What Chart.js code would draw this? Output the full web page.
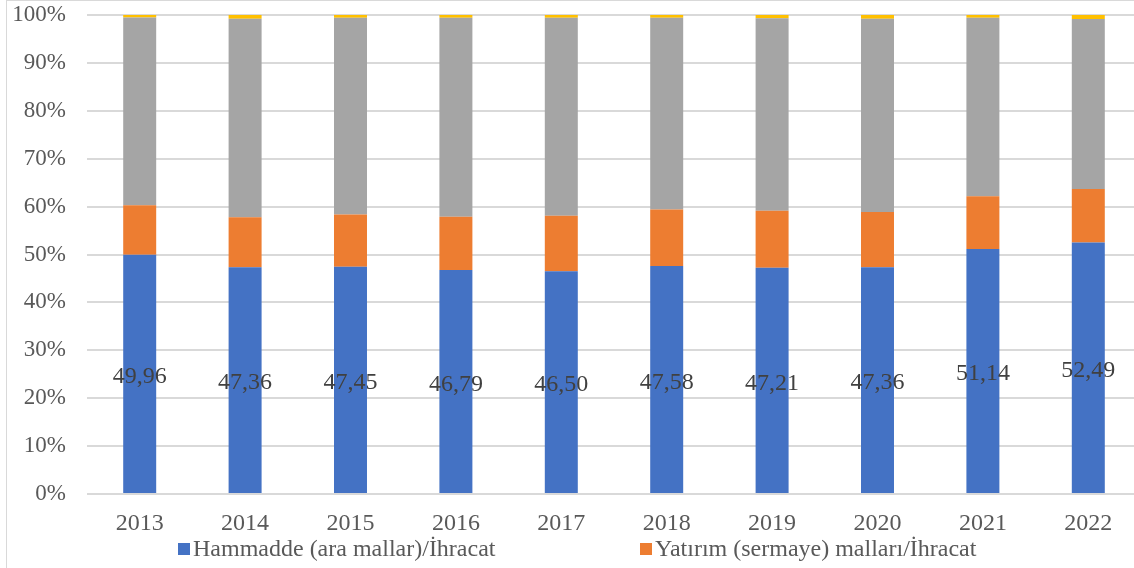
<!DOCTYPE html>
<html>
<head>
<meta charset="utf-8">
<script src="https://cdn.jsdelivr.net/npm/chart.js@4.4.1/dist/chart.umd.min.js"></script>
<style>
html,body{margin:0;padding:0;background:#fff;overflow:hidden;width:1134px;height:568px;}
#frame{position:absolute;left:6px;top:0px;width:1200px;height:600px;border:1.5px solid #d9d9d9;box-sizing:border-box;}
#wrap{position:absolute;left:0;top:0;width:1150px;height:568px;}
</style>
</head>
<body>
<div id="frame"></div>
<div id="wrap"><canvas id="c" width="1150" height="568"></canvas></div>
<script>
const years = ['2013','2014','2015','2016','2017','2018','2019','2020','2021','2022'];
const hammadde = [49.96, 47.36, 47.45, 46.79, 46.50, 47.58, 47.21, 47.36, 51.14, 52.49];
const yatirim = [10.3, 10.4, 10.9, 11.1, 11.6, 11.8, 11.9, 11.5, 11.0, 11.2];
const tuketim = [39.24, 41.44, 41.10, 41.56, 41.35, 40.07, 40.19, 40.34, 37.31, 35.46];
const diger = [0.50, 0.80, 0.55, 0.55, 0.55, 0.55, 0.70, 0.80, 0.55, 0.85];
const yTicks = [0,10,20,30,40,50,60,70,80,90,100];
const seriesNames = ['Hammadde (ara mallar)/İhracat','Yatırım (sermaye) malları/İhracat','Tüketim malları/İhracat','Diğerleri/İhracat'];

const FONT = '"Liberation Serif", "Times New Roman", serif';

const labelPlugin = {
  id: 'blueLabels',
  afterDatasetsDraw(chart) {
    const ctx = chart.ctx;
    const meta = chart.getDatasetMeta(0);
    ctx.save();
    ctx.font = '24px ' + FONT;
    ctx.fillStyle = '#404040';
    ctx.textAlign = 'center';
    ctx.textBaseline = 'middle';
    meta.data.forEach((el, i) => {
      const cy = (el.y + el.base) / 2 + 3;
      ctx.fillText(hammadde[i].toFixed(2).replace('.', ','), el.x, cy);
    });
    ctx.restore();
  }
};

const legendPlugin = {
  id: 'customLegend',
  afterDraw(chart) {
    const ctx = chart.ctx;
    const items = [
      {x: 178, ds: 0},
      {x: 640, ds: 1}
    ];
    ctx.save();
    ctx.font = '24px ' + FONT;
    ctx.textBaseline = 'middle';
    ctx.textAlign = 'left';
    items.forEach(it => {
      const ds = chart.data.datasets[it.ds];
      ctx.fillStyle = ds.backgroundColor;
      ctx.fillRect(it.x, 543, 12, 12);
      ctx.fillStyle = '#595959';
      ctx.fillText(ds.label, it.x + 15, 550);
    });
    ctx.restore();
  }
};

const colors = ['#4472c4', '#ed7d31', '#a5a5a5', '#ffc000'];
const values = [hammadde, yatirim, tuketim, diger];

new Chart(document.getElementById('c'), {
  type: 'bar',
  data: {
    labels: years,
    datasets: values.map((v, i) => ({
      label: seriesNames[i],
      data: v,
      backgroundColor: colors[i],
      borderWidth: 0,
      categoryPercentage: 1.0,
      barPercentage: 0.313
    }))
  },
  options: {
    responsive: false,
    animation: false,
    layout: { padding: { left: 0, right: 9, top: 15, bottom: 34 } },
    plugins: { legend: { display: false }, tooltip: { enabled: false } },
    scales: {
      x: {
        stacked: true,
        grid: { display: false, drawTicks: false },
        border: { display: false },
        ticks: { font: { family: FONT, size: 24, lineHeight: 1 }, color: '#595959', padding: 18, maxRotation: 0 },
        afterFit(s) { s.height = 40; s.paddingLeft = 0; s.paddingRight = 0; }
      },
      y: {
        stacked: true,
        min: 0, max: 100,
        afterBuildTicks(s) { s.ticks = yTicks.map(v => ({ value: v })); },
        grid: { color: '#d9d9d9', lineWidth: 2, drawTicks: false },
        border: { display: false },
        ticks: { font: { family: FONT, size: 23, lineHeight: 1 }, color: '#595959', padding: 21, callback: v => v + '%' },
        afterFit(s) { s.width = 87; s.paddingTop = 0; s.paddingBottom = 0; }
      }
    }
  },
  plugins: [labelPlugin, legendPlugin]
});
</script>
</body>
</html>
